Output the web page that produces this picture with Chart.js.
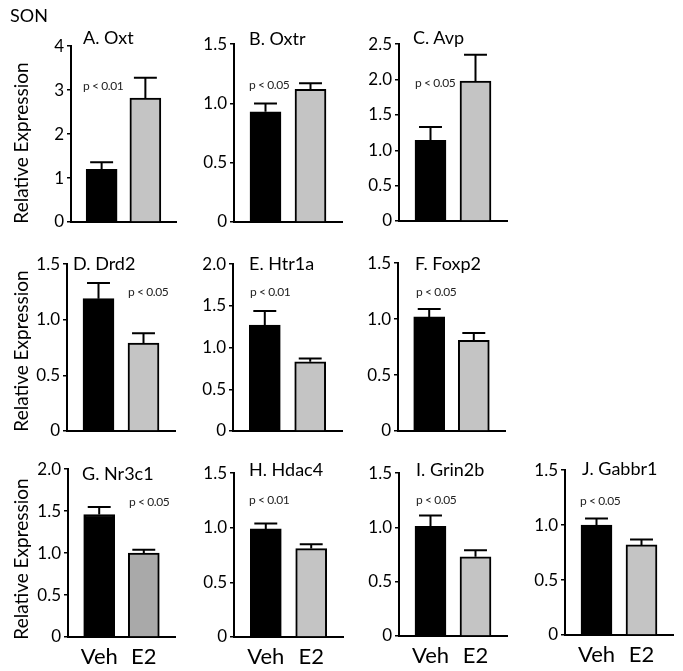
<!DOCTYPE html>
<html>
<head>
<meta charset="utf-8">
<script src="https://cdn.jsdelivr.net/npm/chart.js@4.4.0/dist/chart.umd.min.js"></script>
<style>
  body { margin: 0; background: #fff; }
  #fig { position: relative; width: 683px; height: 671px; background: #fff; overflow: hidden;
         font-family: Lato, 'Open Sans', sans-serif; color: #000; }
  #fig canvas { position: absolute; }
  .lbl { position: absolute; white-space: nowrap; line-height: 1; transform: translateY(-50%); }
  .title { font-size: 18px; }
  .pval { font-size: 12px; letter-spacing: -0.4px; color: #222; }
  .ylab { font-size: 19px; transform: translate(-50%, -50%) rotate(-90deg); }
</style>
</head>
<body>
<div id="fig"></div>
<script>
// Data
const genes = ['A. Oxt', 'B. Oxtr', 'C. Avp', 'D. Drd2', 'E. Htr1a', 'F. Foxp2', 'G. Nr3c1', 'H. Hdac4', 'I. Grin2b', 'J. Gabbr1'];
const groups = ['Veh', 'E2'];
const vehMean = [1.20, 0.93, 1.14, 1.19, 1.27, 1.02, 1.46, 0.99, 1.01, 1.00];
const vehErr  = [0.16, 0.07, 0.19, 0.14, 0.17, 0.07, 0.09, 0.05, 0.10, 0.06];
const e2Mean  = [2.82, 1.12, 1.98, 0.79, 0.83, 0.81, 1.00, 0.81, 0.73, 0.82];
const e2Err   = [0.46, 0.05, 0.37, 0.09, 0.04, 0.065, 0.04, 0.04, 0.06, 0.05];
const pLabels = ['p < 0.01', 'p < 0.05', 'p < 0.05', 'p < 0.05', 'p < 0.01', 'p < 0.05', 'p < 0.05', 'p < 0.01', 'p < 0.05', 'p < 0.05'];
const yMax  = [4, 1.5, 2.5, 1.5, 2.0, 1.5, 2.0, 1.5, 1.5, 1.5];
const yStep = [1, 0.5, 0.5, 0.5, 0.5, 0.5, 0.5, 0.5, 0.5, 0.5];

// layout: y-axis x, x-axis end, top of y-axis, zero line (page px)
const boxes = [
  [71, 176, 45, 222], [234, 342, 43, 222], [399, 507, 43, 221],
  [67, 175, 263, 431], [233, 342, 263, 431], [398, 505, 262, 431],
  [68, 175, 468, 637], [234, 343, 472, 637], [399, 507, 472, 636], [565, 673, 469, 635]
];
const titlePos = [[83, 37], [249, 38], [413, 37], [73, 263], [249, 263], [415, 263], [82, 473], [249, 469], [416, 469], [582, 468]];
const pPos = [[83, 86], [249, 85], [415, 83], [128, 292], [250, 292], [416, 292], [129, 502], [249, 500], [416, 500], [580, 501]];
const e2Colors = ['#c4c4c4', '#c4c4c4', '#c4c4c4', '#c4c4c4', '#c4c4c4', '#c4c4c4', '#a9a9a9', '#c4c4c4', '#c4c4c4', '#c4c4c4'];

const FONT = 'Lato, "Open Sans", sans-serif';
const AXIS_W = 45, PAD_TOP = 12;
const fig = document.getElementById('fig');

function addText(cls, text, x, y) {
  const d = document.createElement('div');
  d.className = 'lbl ' + cls;
  d.textContent = text;
  d.style.left = x + 'px';
  d.style.top = y + 'px';
  fig.appendChild(d);
}

// upper error bars, placed through the y scale
const errorBars = {
  id: 'errorBars',
  afterDatasetsDraw(chart, args, opts) {
    const ctx = chart.ctx;
    const y = chart.scales.y;
    const meta = chart.getDatasetMeta(0);
    ctx.save();
    ctx.strokeStyle = '#000';
    ctx.lineWidth = 2;
    meta.data.forEach((bar, k) => {
      const top = y.getPixelForValue(opts.means[k] + opts.errs[k]);
      const half = bar.width * 0.37;
      ctx.beginPath();
      ctx.moveTo(bar.x, bar.y);
      ctx.lineTo(bar.x, top);
      ctx.moveTo(bar.x - half, top);
      ctx.lineTo(bar.x + half, top);
      ctx.stroke();
    });
    ctx.restore();
  }
};

genes.forEach((gene, i) => {
  const [ax, ae, ty, zy] = boxes[i];
  const bottomRow = i >= 6;
  const xH = bottomRow ? 40 : 0;
  const padBottom = bottomRow ? 0 : 14;

  const canvas = document.createElement('canvas');
  canvas.width = AXIS_W + (ae - ax) + 2;
  canvas.height = PAD_TOP + (zy - ty) + xH + padBottom;
  canvas.style.left = (ax - AXIS_W) + 'px';
  canvas.style.top = (ty - PAD_TOP) + 'px';
  fig.appendChild(canvas);

  const means = [vehMean[i], e2Mean[i]];
  const errs = [vehErr[i], e2Err[i]];

  new Chart(canvas, {
    type: 'bar',
    data: {
      datasets: [{
        data: groups.map((g, k) => ({ x: k + 1, y: means[k] })),
        backgroundColor: ['#000', e2Colors[i]],
        borderColor: '#000',
        borderWidth: 2,
        barThickness: 31
      }]
    },
    options: {
      responsive: false,
      animation: false,
      layout: { padding: { top: PAD_TOP, bottom: padBottom, left: 0, right: 2 } },
      plugins: {
        legend: { display: false },
        tooltip: { enabled: false },
        errorBars: { means: means, errs: errs }
      },
      scales: {
        x: {
          type: 'linear',
          offset: false,
          bounds: 'data',
          min: 0.3,
          max: 2.7,
          grid: { display: false, drawTicks: false, offset: false },
          border: { display: true, color: '#000', width: 2 },
          ticks: {
            display: bottomRow,
            color: '#000',
            font: { family: FONT, size: 22 },
            padding: 7,
            callback: v => groups[v - 1]
          },
          afterBuildTicks: s => { s.ticks = groups.map((g, k) => ({ value: k + 1 })); },
          afterFit: s => { s.height = xH; }
        },
        y: {
          min: 0,
          max: yMax[i],
          grid: { drawOnChartArea: false, drawTicks: true, tickLength: 4, color: '#000', lineWidth: 1.5 },
          border: { display: true, color: '#000', width: 2 },
          ticks: {
            stepSize: yStep[i],
            color: '#000',
            padding: 3,
            font: { family: FONT, size: 17 },
            callback: v => (yStep[i] >= 1 || v === 0) ? String(v) : v.toFixed(1)
          },
          afterFit: s => { s.width = AXIS_W; }
        }
      }
    },
    plugins: [errorBars]
  });

  addText('title', gene, titlePos[i][0], titlePos[i][1]);
  addText('pval', pLabels[i], pPos[i][0], pPos[i][1]);
});

addText('title', 'SON', 10, 15);
[143, 351, 559].forEach(cy => addText('ylab', 'Relative Expression', 20, cy));
</script>
</body>
</html>
